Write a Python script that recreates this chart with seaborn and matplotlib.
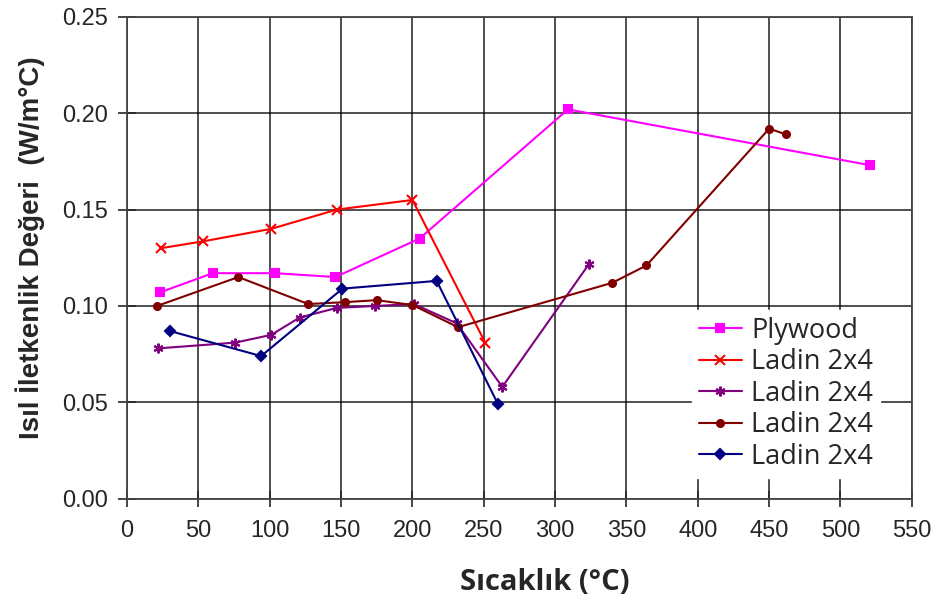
import pandas as pd
import numpy as np
import matplotlib
matplotlib.use("Agg")
import matplotlib.pyplot as plt
import seaborn as sns

# veri
plywood_x = [23, 60, 104, 146, 205, 309, 521]
plywood_y = [0.107, 0.117, 0.117, 0.115, 0.135, 0.202, 0.173]

ladin1_x = [24, 53, 101, 147, 200, 251]
ladin1_y = [0.130, 0.1335, 0.140, 0.150, 0.155, 0.081]

ladin2_x = [22, 76, 101, 121, 147, 174, 201, 231, 263, 324]
ladin2_y = [0.078, 0.081, 0.085, 0.094, 0.099, 0.100, 0.101, 0.091, 0.058, 0.122]

ladin3_x = [21, 78, 127, 153, 175, 200, 232, 340, 364, 450, 462]
ladin3_y = [0.100, 0.115, 0.101, 0.102, 0.103, 0.1005, 0.089, 0.112, 0.121, 0.192, 0.189]

ladin4_x = [30, 94, 151, 217, 260]
ladin4_y = [0.087, 0.074, 0.109, 0.113, 0.049]

labels = ["Plywood", "Ladin 2x4", "Ladin 2x4", "Ladin 2x4", "Ladin 2x4"]
colors = ["#FF00FF", "#FF0000", "#800080", "#800000", "#000080"]
markers = ["s", "x", (6, 2, 0), "o", "D"]
msizes = [5.5, 6.5, 7, 5, 5]

xs = [plywood_x, ladin1_x, ladin2_x, ladin3_x, ladin4_x]
ys = [plywood_y, ladin1_y, ladin2_y, ladin3_y, ladin4_y]

sns.set_style("white")
plt.rcParams['font.family'] = ['Liberation Sans', 'DejaVu Sans']

fig = plt.figure(figsize=(9.41, 6.03), dpi=100)
ax = fig.add_axes([0.135, 0.173, 0.834, 0.799])

for x, y, lab, c, m, ms in zip(xs, ys, labels, colors, markers, msizes):
    df = pd.DataFrame({"x": x, "y": y})
    sns.lineplot(data=df, x="x", y="y", ax=ax, color=c, marker=m, markersize=ms,
                 markeredgecolor=c, markeredgewidth=1.5, linewidth=1.5,
                 label=lab, sort=False)

ax.set_xlim(0, 550)
ax.set_ylim(0, 0.25)
ax.set_xticks(np.arange(0, 551, 50))
ax.set_yticks(np.arange(0, 0.251, 0.05))
ax.set_yticklabels([f"{v:.2f}" for v in np.arange(0, 0.251, 0.05)])
ax.grid(True, color="black", linewidth=1.3, alpha=0.75)
ax.set_axisbelow(True)
for s in ax.spines.values():
    s.set_color("#444444")
    s.set_linewidth(1.3)

ax.tick_params(axis="x", direction="inout", length=12, width=1.2, labelsize=17, pad=9, bottom=True)
ax.tick_params(axis="y", direction="inout", length=13, width=1.2, labelsize=17, pad=7, left=True)

ax.set_xlabel("Sıcaklık (°C)", fontsize=21, fontweight="bold",
              family=["Open Sans", "DejaVu Sans"])
ax.xaxis.set_label_coords(0.532, -0.144)
ax.set_ylabel("Isıl İletkenlik Değeri  (W/m°C)", fontsize=20, fontweight="bold")
ax.yaxis.set_label_coords(-0.105, 0.52)

leg = ax.legend(loc="upper left", bbox_to_anchor=(0.7197, 0.3915), borderaxespad=0,
                frameon=True, fancybox=False, edgecolor="white", facecolor="white",
                framealpha=1, prop={"family": ["Open Sans", "DejaVu Sans"], "size": 19.5},
                handlelength=1.6, labelspacing=0.13, borderpad=0.25, handletextpad=0.35)

plt.savefig("out.png", dpi=100)
